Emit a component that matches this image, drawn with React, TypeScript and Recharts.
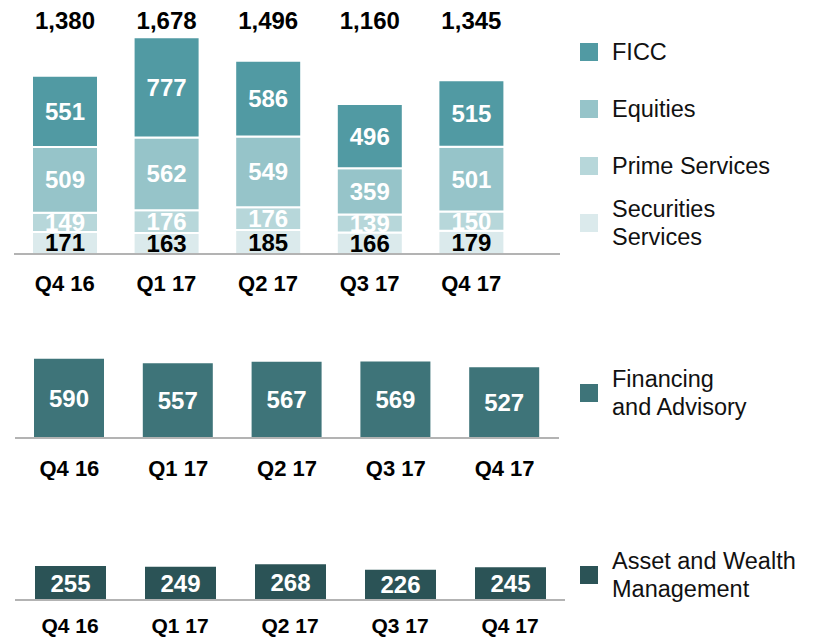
import React from "react";
import { BarChart, Bar, XAxis, YAxis, LabelList } from "recharts";

const quarters = ["Q4 16", "Q1 17", "Q2 17", "Q3 17", "Q4 17"];
const ficc = [551, 777, 586, 496, 515];
const equities = [509, 562, 549, 359, 501];
const primeServices = [149, 176, 176, 139, 150];
const securitiesServices = [171, 163, 185, 166, 179];
const totals = [1380, 1678, 1496, 1160, 1345];
const financingAdvisory = [590, 557, 567, 569, 527];
const assetWealth = [255, 249, 268, 226, 245];

const C = {
  ficc: "#519aa3",
  equities: "#96c4c9",
  prime: "#b7d7da",
  securities: "#dbeaec",
  financing: "#3e7479",
  asset: "#2b5356",
  axis: "#b3b3b3",
};

const FONT = '"Liberation Sans", Arial, sans-serif';

const topData = quarters.map((q, i) => ({
  q,
  ficc: ficc[i],
  equities: equities[i],
  prime: primeServices[i],
  securities: securitiesServices[i],
  total: totals[i],
}));
const finData = quarters.map((q, i) => ({ q, v: financingAdvisory[i] }));
const awmData = quarters.map((q, i) => ({ q, v: assetWealth[i] }));

const tickStyle = { fill: "#000", fontSize: 22, fontWeight: 700 };
const inLabel = { fill: "#fff", fontSize: 24, fontWeight: 700 };

const fmt = (v: number) => v.toLocaleString("en-US");

function TotalLabel(props: any) {
  const { x, width, value } = props;
  return (
    <text
      x={Number(x) + Number(width) / 2}
      y={20}
      textAnchor="middle"
      dominantBaseline="central"
      fill="#000"
      fontSize={24}
      fontWeight={700}
    >
      {fmt(Number(value))}
    </text>
  );
}

function LegendItem({
  color,
  lines,
  top,
}: {
  color: string;
  lines: string[];
  top: number;
}) {
  const lh = 28.5;
  const h = lines.length * lh;
  return (
    <div style={{ position: "absolute", left: 580, top: top - h / 2, height: h }}>
      <div
        style={{
          position: "absolute",
          left: 0,
          top: h / 2 - 9,
          width: 18,
          height: 18,
          background: color,
        }}
      />
      <div
        style={{
          position: "absolute",
          left: 32,
          top: 0,
          fontSize: 23.5,
          lineHeight: `${lh}px`,
          color: "#111",
          whiteSpace: "nowrap",
        }}
      >
        {lines.map((l) => (
          <div key={l}>{l}</div>
        ))}
      </div>
    </div>
  );
}

export default function App() {
  return (
    <div
      style={{
        position: "absolute",
        left: 0,
        top: 0,
        width: 815,
        height: 639,
        background: "#fff",
        fontFamily: FONT,
      }}
    >
      {/* trading */}
      <div style={{ position: "absolute", left: 0, top: 0 }}>
        <BarChart
          width={560}
          height={300}
          data={topData}
          margin={{ top: 24, right: 0, left: 14, bottom: 6 }}
        >
          <YAxis hide domain={[0, 1780]} />
          <XAxis
            dataKey="q"
            height={40}
            axisLine={{ stroke: C.axis, strokeWidth: 2 }}
            tickLine={false}
            tickMargin={15}
            tick={tickStyle}
            padding={{ left: 0, right: 38 }}
            interval={0}
          />
          <Bar dataKey="securities" stackId="a" fill={C.securities} stroke="#fff" strokeWidth={2} barSize={66} isAnimationActive={false}>
            <LabelList dataKey="securities" position="center" fill="#000" fontSize={24} fontWeight={700} />
          </Bar>
          <Bar dataKey="prime" stackId="a" fill={C.prime} stroke="#fff" strokeWidth={2} barSize={66} isAnimationActive={false}>
            <LabelList dataKey="prime" position="center" {...inLabel} />
          </Bar>
          <Bar dataKey="equities" stackId="a" fill={C.equities} stroke="#fff" strokeWidth={2} barSize={66} isAnimationActive={false}>
            <LabelList dataKey="equities" position="center" {...inLabel} />
          </Bar>
          <Bar dataKey="ficc" stackId="a" fill={C.ficc} stroke="#fff" strokeWidth={2} barSize={66} isAnimationActive={false}>
            <LabelList dataKey="ficc" position="center" {...inLabel} />
            <LabelList dataKey="total" content={TotalLabel} />
          </Bar>
        </BarChart>
      </div>

      {/* financing and advisory */}
      <div style={{ position: "absolute", left: 0, top: 330 }}>
        <BarChart
          width={560}
          height={150}
          data={finData}
          margin={{ top: 14, right: 1, left: 15, bottom: 6 }}
        >
          <YAxis hide domain={[0, 700]} />
          <XAxis
            dataKey="q"
            height={36}
            axisLine={{ stroke: C.axis, strokeWidth: 2 }}
            tickLine={false}
            tickMargin={16}
            tick={tickStyle}
            interval={0}
          />
          <Bar dataKey="v" fill={C.financing} barSize={70} isAnimationActive={false}>
            <LabelList dataKey="v" position="center" {...inLabel} />
          </Bar>
        </BarChart>
      </div>

      {/* asset and wealth management */}
      <div style={{ position: "absolute", left: 0, top: 519 }}>
        <BarChart
          width={565}
          height={120}
          data={awmData}
          margin={{ top: 41, right: 0, left: 15, bottom: 5 }}
        >
          <YAxis hide domain={[0, 300]} />
          <XAxis
            dataKey="q"
            height={34}
            axisLine={{ stroke: C.axis, strokeWidth: 2 }}
            tickLine={false}
            tickMargin={12}
            tick={{ ...tickStyle, fontSize: 21 }}
            interval={0}
          />
          <Bar dataKey="v" fill={C.asset} barSize={71} isAnimationActive={false}>
            <LabelList dataKey="v" position="center" {...inLabel} />
          </Bar>
        </BarChart>
      </div>

      <LegendItem color={C.ficc} lines={["FICC"]} top={52} />
      <LegendItem color={C.equities} lines={["Equities"]} top={109} />
      <LegendItem color={C.prime} lines={["Prime Services"]} top={166} />
      <LegendItem color={C.securities} lines={["Securities", "Services"]} top={223} />
      <LegendItem color={C.financing} lines={["Financing", "and Advisory"]} top={393} />
      <LegendItem color={C.asset} lines={["Asset and Wealth", "Management"]} top={575} />
    </div>
  );
}
